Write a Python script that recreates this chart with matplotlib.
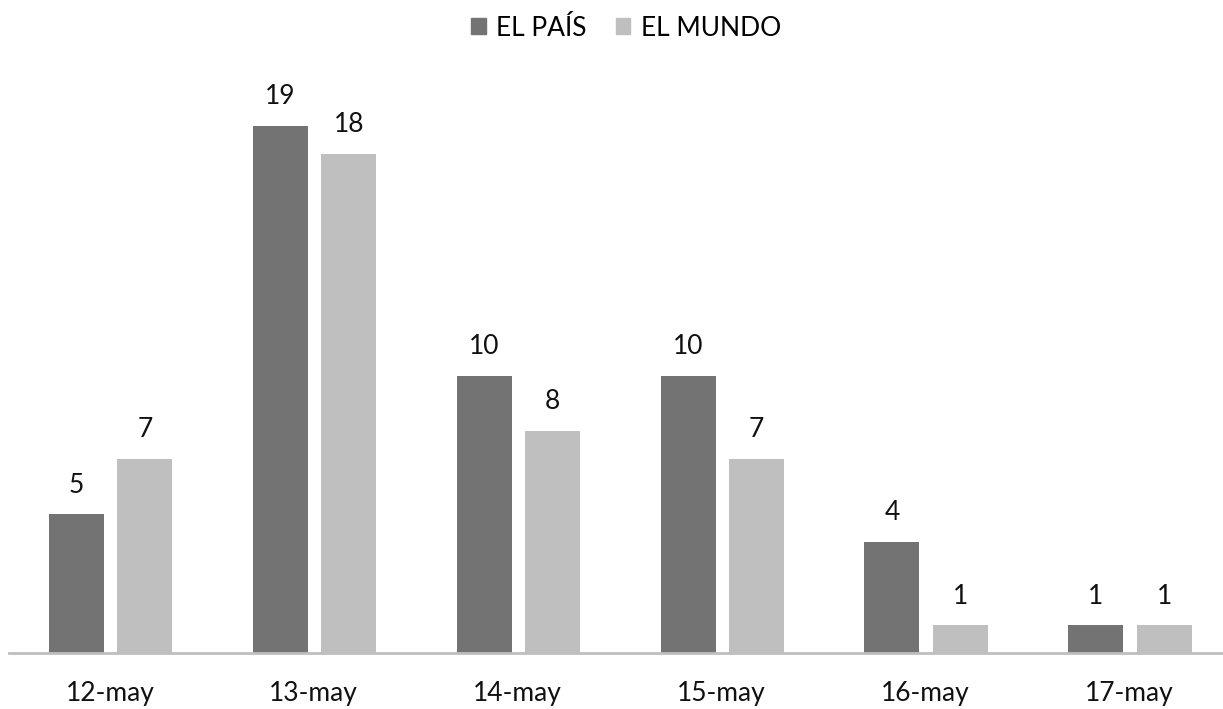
import numpy as np
import matplotlib.pyplot as plt
from matplotlib.patches import Patch

# data
dates = ['12-may', '13-may', '14-may', '15-may', '16-may', '17-may']
el_pais = [5, 19, 10, 10, 4, 1]
el_mundo = [7, 18, 8, 7, 1, 1]

dark = '#737373'
light = '#bfbfbf'

plt.rcParams['font.family'] = ['Lato', 'DejaVu Sans']

fig = plt.figure(figsize=(12.23, 7.09), dpi=100)
ax = fig.add_axes([9/1223, 56/709, 1 - 9/1223, 582.75/709])

x = np.arange(len(dates))
w = 0.27
off = 0.168
b1 = ax.bar(x + 0.004 - off, el_pais, w, color=dark)
b2 = ax.bar(x + 0.004 + off, el_mundo, w, color=light)

for bars in (b1, b2):
    for r in bars:
        ax.annotate(str(int(r.get_height())),
                    (r.get_x() + r.get_width()/2, r.get_height()),
                    xytext=(0, 12), textcoords='offset points',
                    ha='center', va='bottom', fontsize=19, color='#111111')

ax.set_xlim(-0.495, 5.46)
ax.set_ylim(0, 21)
ax.set_xticks(x)
ax.set_xticklabels(dates, fontsize=19, color='#111111')
ax.tick_params(axis='x', length=0, pad=20)
ax.set_yticks([])
for s in ['top', 'right', 'left']:
    ax.spines[s].set_visible(False)
ax.spines['bottom'].set_color('#bfbfbf')
ax.spines['bottom'].set_linewidth(2)

handles = [Patch(color=dark, label='EL PAÍS'), Patch(color=light, label='EL MUNDO')]
fig.legend(handles=handles, loc='center', bbox_to_anchor=(626/1223, 1 - 28/709),
           ncol=2, frameon=False, fontsize=19, handlelength=0.55, handleheight=0.55,
           handletextpad=0.4, columnspacing=1.1)

fig.savefig('out.png', dpi=100)
